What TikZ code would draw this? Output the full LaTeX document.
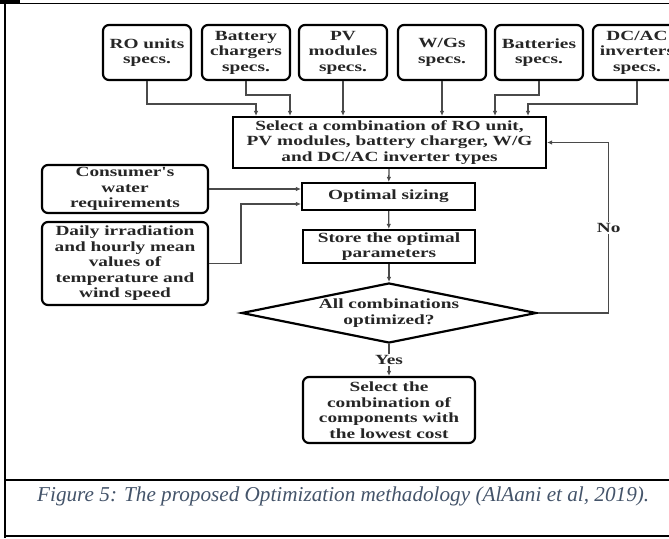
\documentclass[tikz,border=0pt]{standalone}
\usepackage{fontspec}
\setmainfont{Liberation Serif}
\newfontfamily\diagfont{Liberation Serif}[FakeStretch=1.38]
\usetikzlibrary{shapes.geometric,arrows.meta}
\definecolor{linegray}{HTML}{4A4A4A}
\definecolor{captionblue}{HTML}{44546A}

\tikzset{
  lbl/.style={font=\diagfont\bfseries\fontsize{14}{15.5}\selectfont, align=center, text=black!85},
  specbox/.style={lbl, draw=black, line width=2.2pt, rounded corners=6pt, minimum width=88, minimum height=55, inner sep=0pt},
  sidebox/.style={lbl, draw=black, line width=2.2pt, rounded corners=6pt, minimum width=166, inner sep=0pt},
  procbox/.style={lbl, draw=black, line width=2.2pt, inner sep=0pt},
  decision/.style={lbl, draw=black, line width=2.2pt, diamond, aspect=4.9, minimum width=295, minimum height=60, inner sep=0pt},
  arr/.style={draw=linegray, line width=1.3pt, -{Latex[length=5pt,width=4.5pt]}},
  flowlabel/.style={lbl, fill=white, inner sep=1.5pt}
}

\begin{document}
\begin{tikzpicture}[x=1pt,y=-1pt]
\useasboundingbox (0,0) rectangle (669,538);
\clip (0,0) rectangle (669,538);

% page frame and caption separator
\draw[line width=2pt] (5,0) -- (5,538);
\draw[line width=3.5pt] (0,2) -- (20,2);
\draw[line width=1pt] (20,3) -- (669,3);
\draw[line width=2pt] (5,480) -- (669,480);
\draw[line width=2pt] (5,536) -- (669,536);

% component specification inputs
\node[specbox] (ro)  at (147,52.5) {RO units\\specs.};
\node[specbox] (bc)  at (246,52.5) {Battery\\chargers\\specs.};
\node[specbox] (pv)  at (343,52.5) {PV\\modules\\specs.};
\node[specbox] (wg)  at (442,52.5) {W/Gs\\specs.};
\node[specbox] (bat) at (539,52.5) {Batteries\\specs.};
\node[specbox] (inv) at (637,52.5) {DC/AC\\inverters\\specs.};

% main flow
\node[procbox, minimum width=313, minimum height=51] (sel) at (389.5,142.5)
  {Select a combination of RO unit,\\PV modules, battery charger, W/G\\and DC/AC inverter types};
\node[procbox, minimum width=173, minimum height=27] (opt) at (388.5,196.5) {Optimal sizing};
\node[procbox, minimum width=172, minimum height=33] (sto) at (389,246.5) {Store the optimal\\parameters};
\node[decision] (dec) at (389,313) {All combinations\\optimized?};
\node[specbox, minimum width=172, minimum height=66] (fin) at (389,410)
  {Select the\\combination of\\components with\\the lowest cost};

% side inputs
\node[sidebox, minimum height=48] (cons) at (125,189) {Consumer's\\water\\requirements};
\node[sidebox, minimum height=83] (daily) at (125,263.5)
  {Daily irradiation\\and hourly mean\\values of\\temperature and\\wind speed};

% connectors from the specification boxes
\draw[arr] (ro.south)  -- ++(0,23) -| ([xshift=-133.5pt]sel.north);
\draw[arr] (bc.south)  -- ++(0,14) -| ([xshift=-99.5pt]sel.north);
\draw[arr] (pv.south)  -- (pv.south |- sel.north);
\draw[arr] (wg.south)  -- (wg.south |- sel.north);
\draw[arr] (bat.south) -- ++(0,14) -| ([xshift=105.5pt]sel.north);
\draw[arr] (inv.south) -- ++(0,23) -| ([xshift=138.5pt]sel.north);

% flow connectors
\draw[arr] (sel) -- (opt);
\draw[arr] (cons.east) -- (cons.east -| opt.west);
\draw[arr] (daily.east) -- ++(32,0) |- ([yshift=-7.5pt]opt.west);
\draw[arr] (opt) -- (sto);
\draw[arr] (sto) -- (dec);
\draw[arr] (dec.south) -- node[flowlabel] {Yes} (fin.north);
\draw[arr] (dec.east) -- ++(71,0) |- node[flowlabel, pos=0.25] {No} (sel.east);

% caption
\node[anchor=base west, inner sep=0pt, text=captionblue,
      font=\itshape\fontsize{21.2}{25}\selectfont] (cap) at (37,501)
  {Figure 5: The proposed Optimization methadology (AlAani et al, 2019).};
\end{tikzpicture}
\end{document}
